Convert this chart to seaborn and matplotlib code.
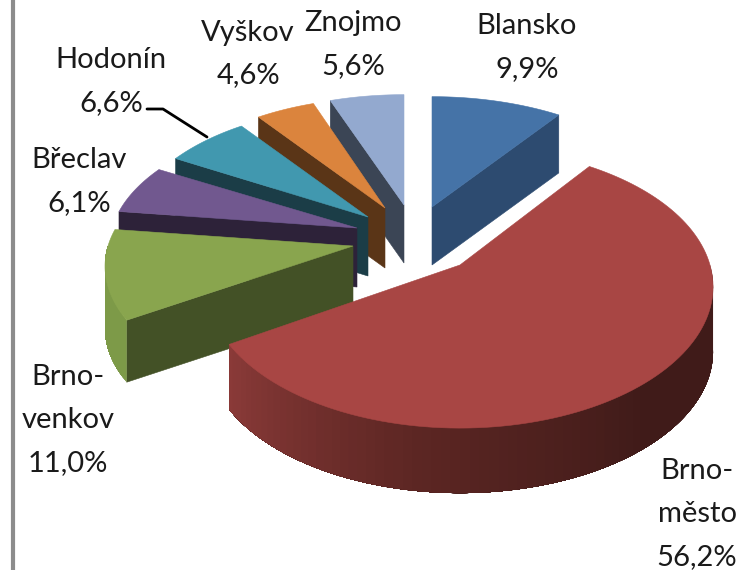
"""Exploded 3D pie of district shares, drawn by hand on a pixel-sized axes."""

import numpy as np
import matplotlib
matplotlib.use("Agg")
import matplotlib.pyplot as plt
import seaborn as sns

districts = ["Blansko", "Brno-\nměsto", "Brno-\nvenkov", "Břeclav", "Hodonín", "Vyškov", "Znojmo"]
shares = [9.9, 56.2, 11.0, 6.1, 6.6, 4.6, 5.6]

top_colors = ["#4573A7", "#A84644", "#89A54E", "#71588F", "#4198AF", "#DB843D", "#93A9CF"]
face_colors = ["#2D4B70", "#401B19", "#435126", "#2D2239", "#1B3D47", "#5A3517", "#3B4555"]
wall_stops = [
    ["#2D4B70", "#2D4B70"],
    ["#401B19", "#401B19", "#5C2623", "#8A3A38"],
    ["#7D9A48", "#7D9A48"],
    ["#2D2239", "#2D2239"],
    ["#1B3D47", "#1B3D47"],
    ["#5A3517", "#5A3517"],
    ["#3B4555", "#3B4555"],
]

# layout of each exploded slice, in pixels: tip of the wedge and radii
apex_x = [432, 460, 353, 357, 368, 385, 404]
apex_y = [207, 265, 246, 228, 217, 208, 205]
radius_x = [245, 250, 245, 245, 238, 238, 245]
radius_y = [128, 137, 128, 128, 128, 128, 128]
depth = [58, 65, 62, 59, 59, 60, 58]
draw_order = [0, 6, 5, 4, 3, 2, 1]

# middle of each label block, lines are a fixed step apart
label_x = [527, 697, 68, 79, 111, 248, 353]
label_y = [45, 511, 417, 179, 79, 51, 42]
LINE_STEP = 43

PERSP_X = 0.155
PERSP_Y = 0.16

sns.set_theme(style="white")
plt.rcParams["font.family"] = ["Lato", "DejaVu Sans"]

fig, ax = plt.subplots(figsize=(7.54, 5.70), dpi=100)
ax.set_position([0, 0, 1, 1])
ax.set_xlim(0, 754)
ax.set_ylim(570, 0)
ax.axis("off")

edges = np.deg2rad(np.concatenate([[0], np.cumsum(shares) / np.sum(shares) * 360]))


def project(i, theta):
    # perspective: the far side of the pie shrinks, the near side grows
    s, c = np.sin(theta), np.cos(theta)
    x = apex_x[i] + radius_x[i] * s / (1 + PERSP_X * c)
    y = apex_y[i] - radius_y[i] * c / (1 + PERSP_Y * c)
    return x, y


def fill(xs, ys, color, zorder, lw=0.4):
    ax.fill(xs, ys, color=color, ec=color, lw=lw, zorder=zorder)


for z, i in enumerate(draw_order):
    t0, t1 = edges[i], edges[i + 1]
    d = depth[i]
    base = z * 10

    # radial face that looks towards the viewer
    if t1 < np.pi / 2:
        face = t1
    elif t0 > np.pi:
        face = t0
    else:
        face = None
    if face is not None:
        fx, fy = project(i, face)
        fill([apex_x[i], fx, fx, apex_x[i]],
             [apex_y[i], fy, fy + d, apex_y[i] + d], face_colors[i], base)

    # outer wall, only the near side; each band runs to the end of the wall so no seams show
    w0, w1 = max(t0, np.pi / 2), min(t1, 3 * np.pi / 2)
    if w1 > w0:
        steps = np.linspace(w0, w1, 80)
        shades = sns.blend_palette(wall_stops[i], len(steps) - 1)
        for k in range(len(steps) - 1):
            seg = np.linspace(steps[k], w1, 80)
            sx, sy = project(i, seg)
            fill(np.r_[sx, sx[::-1]], np.r_[sy, sy[::-1] + d], shades[k], base + 1, lw=0)

    # top of the slice
    arc = np.linspace(t0, t1, 120)
    tx, ty = project(i, arc)
    fill(np.r_[apex_x[i], tx], np.r_[apex_y[i], ty], top_colors[i], base + 2)

for i, name in enumerate(districts):
    share = f"{shares[i]:.1f}".replace(".", ",") + "%"
    lines = name.split("\n") + [share]
    for j, line in enumerate(lines):
        y = label_y[i] + (j - (len(lines) - 1) / 2) * LINE_STEP + 11
        ax.text(label_x[i], y, line, ha="center", va="baseline",
                fontsize=21, color="#1A1A1A", zorder=200)

# leader line for Hodonín and the grey frame edge on the left
ax.plot([147, 163, 207], [109, 109, 137], color="black", lw=2, zorder=200)
ax.plot([12.5, 12.5], [0, 570], color="#8C8C8C", lw=3, zorder=200)

fig.savefig("out.png", dpi=100)
